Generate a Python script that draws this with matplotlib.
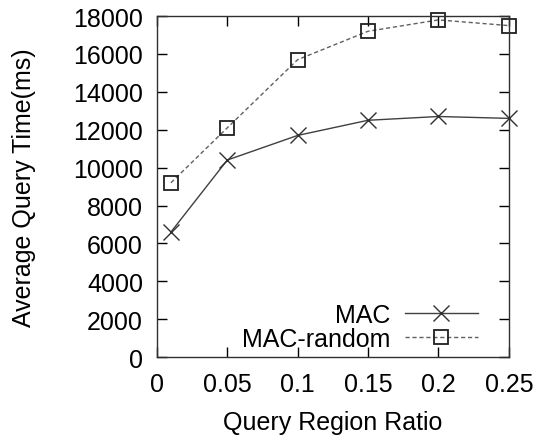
import matplotlib
matplotlib.use("Agg")
import matplotlib.pyplot as plt

ratio = [0.01, 0.05, 0.1, 0.15, 0.2, 0.25]
mac = [6600, 10400, 11700, 12500, 12700, 12600]
mac_random = [9200, 12100, 15700, 17200, 17800, 17500]
xticks = [0, 0.05, 0.1, 0.15, 0.2, 0.25]
xticklabels = ["0", "0.05", "0.1", "0.15", "0.2", "0.25"]
yticks = list(range(0, 18001, 2000))

plt.rcParams["font.family"] = ["Liberation Sans", "DejaVu Sans"]

fig = plt.figure(figsize=(5.39, 4.39), dpi=100)
ax = fig.add_axes([0.291, 0.1845, 0.653, 0.7765])

ax.plot(ratio, mac, color="#404040", linewidth=1.0, linestyle="-",
        marker="x", markersize=12, markeredgewidth=1.0, markeredgecolor="#303030",
        label="MAC", clip_on=False)
ax.plot(ratio, mac_random, color="#606060", linewidth=1.0, linestyle=(0, (3, 2)),
        marker="s", markersize=10, markerfacecolor="none", markeredgewidth=1.3,
        markeredgecolor="#202020", label="MAC-random", clip_on=False)

ax.set_xlim(0, 0.25)
ax.set_ylim(0, 18000)
ax.set_xticks(xticks)
ax.set_xticklabels(xticklabels)
ax.set_yticks(yticks)
ax.tick_params(direction="in", length=7, width=1, top=True, right=True,
               labelsize=18, pad=10)
ax.tick_params(axis="x", pad=11)
for s in ax.spines.values():
    s.set_linewidth(1.0)
    s.set_color("#303030")

ax.set_xlabel("Query Region Ratio", fontsize=18, labelpad=10)
ax.set_ylabel("Average Query Time(ms)", fontsize=18, labelpad=27)

ax.legend(loc="lower right", frameon=False, markerfirst=False, fontsize=18,
          handlelength=2.9, borderaxespad=0.0, labelspacing=0.0,
          handletextpad=0.6, bbox_to_anchor=(0.94, -0.012))

fig.savefig("out.png", dpi=100)
